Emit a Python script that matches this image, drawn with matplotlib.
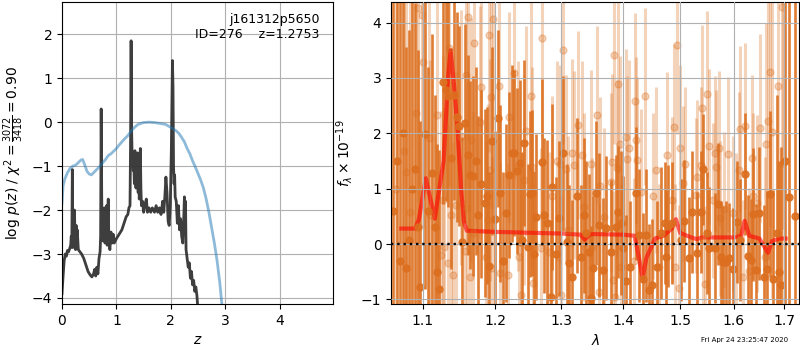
import numpy as np
import matplotlib
matplotlib.use('Agg')
import matplotlib.pyplot as plt
from matplotlib.ticker import FixedLocator, FormatStrFormatter, NullLocator

# --- p(z) panel ---
z_chi = [0.00, 0.02, 0.04, 0.06, 0.08, 0.10, 0.12, 0.14, 0.16, 0.17, 0.18, 0.19, 0.20, 0.21,
         0.22, 0.23, 0.24, 0.25, 0.26, 0.27, 0.28, 0.30, 0.33, 0.36, 0.40, 0.44, 0.48, 0.52,
         0.55, 0.58, 0.60, 0.62, 0.64, 0.66, 0.68, 0.70, 0.71, 0.72, 0.73, 0.74, 0.76, 0.77,
         0.78, 0.79, 0.80, 0.81, 0.82, 0.83, 0.84, 0.85, 0.86, 0.87, 0.88, 0.90, 0.92, 0.94,
         0.96, 1.00, 1.05, 1.10, 1.14, 1.18, 1.21, 1.23, 1.25, 1.26, 1.27, 1.28, 1.29, 1.30,
         1.31, 1.32, 1.33, 1.34, 1.35, 1.36, 1.37, 1.38, 1.39, 1.40, 1.41, 1.42, 1.43, 1.44,
         1.45, 1.46, 1.48, 1.50, 1.52, 1.55, 1.57, 1.60, 1.63, 1.66, 1.70, 1.73, 1.76, 1.79,
         1.82, 1.85, 1.87, 1.89, 1.91, 1.93, 1.95, 1.97, 1.99, 2.01, 2.03, 2.04, 2.05, 2.06,
         2.07, 2.08, 2.10, 2.12, 2.14, 2.16, 2.18, 2.20, 2.22, 2.24, 2.25, 2.26, 2.27, 2.28,
         2.30, 2.32, 2.34, 2.36, 2.38, 2.40, 2.42, 2.44, 2.46, 2.48, 2.50]
logp_chi = [-3.90, -3.50, -3.15, -3.00, -3.05, -2.92, -2.95, -2.88, -2.80, -2.60, -2.85, -1.08, -2.70, -2.85,
            -2.40, -2.00, -2.80, -2.90, -2.35, -2.75, -2.45, -2.90, -2.95, -3.00, -3.10, -3.25, -3.40, -3.48,
            -3.52, -3.45, -3.35, -3.50, -3.30, -3.45, -3.10, -2.95, -2.60, 0.30, -1.70, -2.70, -2.00, -2.60,
            -1.95, -2.75, -2.10, -2.70, -1.90, -2.80, -2.20, -1.75, -2.65, -2.80, -2.90, -2.50, -2.75, -2.55,
            -2.75, -2.65, -2.55, -2.45, -2.30, -2.15, -2.10, -1.95, -1.90, -0.50, 1.85, -0.20, -0.85, -0.70,
            -1.10, -0.95, -1.40, -0.65, -1.30, -1.50, -0.85, -1.45, -0.70, -1.60, -1.10, -1.75, -1.55, -0.60,
            -1.50, -1.90, -1.80, -2.05, -1.90, -1.75, -2.05, -1.95, -2.05, -1.95, -2.05, -1.90, -2.05, -1.95,
            -2.10, -1.80, -2.05, -1.70, -1.25, -1.60, -2.25, -2.35, -1.90, -0.60, 1.40, 0.80, -1.00, -1.40,
            -1.20, -1.70, -1.80, -2.30, -1.90, -2.45, -2.20, -2.60, -2.75, -2.10, -1.70, -2.50, -1.80, -2.90,
            -3.10, -3.30, -3.20, -3.55, -3.40, -3.70, -3.60, -3.85, -3.75, -3.95, -4.30]

z_prior = [0.00, 0.02, 0.05, 0.10, 0.15, 0.20, 0.25, 0.30, 0.35, 0.38, 0.42, 0.46, 0.50, 0.54,
           0.58, 0.62, 0.66, 0.70, 0.75, 0.80, 0.85, 0.90, 0.95, 1.00, 1.05, 1.10, 1.15, 1.20,
           1.25, 1.30, 1.35, 1.40, 1.45, 1.50, 1.60, 1.70, 1.80, 1.90, 2.00, 2.10, 2.15, 2.20,
           2.25, 2.30, 2.35, 2.40, 2.45, 2.50, 2.55, 2.60, 2.65, 2.70, 2.75, 2.80, 2.85, 2.90, 2.95]
logp_prior = [-1.85, -1.45, -1.30, -1.15, -1.05, -1.00, -0.98, -0.92, -0.86, -0.85, -0.98, -1.12, -1.18, -1.20,
              -1.15, -1.10, -1.05, -1.00, -0.92, -0.85, -0.76, -0.72, -0.66, -0.60, -0.52, -0.45, -0.38, -0.32,
              -0.24, -0.16, -0.10, -0.05, -0.03, -0.01, 0.00, -0.01, -0.03, -0.05, -0.12, -0.20, -0.26, -0.35,
              -0.45, -0.60, -0.72, -0.88, -1.02, -1.17, -1.32, -1.50, -1.75, -2.05, -2.40, -2.75, -3.15, -3.65, -4.30]

# --- spectrum panel: first beam (solid) ---
wave_a = [1.0618, 1.0661, 1.0708, 1.0747, 1.0786, 1.0825, 1.0865, 1.0904, 1.0943, 1.0969, 1.1036, 1.1076,
          1.1130, 1.1170, 1.1197, 1.1224, 1.1265, 1.1306, 1.1333, 1.1374, 1.1416, 1.1458, 1.1485, 1.1527,
          1.1569, 1.1611, 1.1639, 1.1681, 1.1724, 1.1752, 1.1795, 1.1852, 1.1881, 1.1910, 1.1953, 1.1997,
          1.2040, 1.2069, 1.2113, 1.2157, 1.2201, 1.2245, 1.2275, 1.2319, 1.2364, 1.2394, 1.2424, 1.2484,
          1.2514, 1.2544, 1.2575, 1.2605, 1.2697, 1.2728, 1.2774, 1.2836, 1.2852, 1.2914, 1.2961, 1.3024,
          1.3087, 1.3118, 1.3166, 1.3246, 1.3310, 1.3358, 1.3391, 1.3439, 1.3472, 1.3504, 1.3553, 1.3602,
          1.3669, 1.3718, 1.3801, 1.3885, 1.3918, 1.3969, 1.4003, 1.4054, 1.4122, 1.4225, 1.4276, 1.4346,
          1.4398, 1.4450, 1.4503, 1.4591, 1.4661, 1.4732, 1.4750, 1.4786, 1.4858, 1.5020, 1.5075, 1.5166,
          1.5221, 1.5314, 1.5388, 1.5425, 1.5500, 1.5537, 1.5632, 1.5688, 1.5745, 1.5783, 1.5841, 1.5898,
          1.5975, 1.6053, 1.6111, 1.6209, 1.6268, 1.6327, 1.6366, 1.6426, 1.6485, 1.6585, 1.6645, 1.6706,
          1.6767, 1.6848, 1.6889, 1.6930, 1.7012, 1.7095, 1.7218]
flux_a = [0.60, 1.50, -0.30, 2.00, -0.44, 0.07, 1.00, 1.35, 0.30, -0.77, 1.98, 0.60,
          1.29, 0.30, -0.50, -0.81, 2.93, 2.78, 2.67, 1.55, 2.69, 2.29, 2.13, 0.04,
          2.18, 1.61, 1.25, 1.23, 1.50, 0.52, 1.08, 0.74, 0.87, -0.40, 1.86, 0.45,
          2.27, 0.92, -0.30, 0.56, 1.25, 1.64, 1.64, 1.32, 1.46, 0.07, 1.82, -0.05,
          0.90, 0.92, -0.18, 0.49, 1.48, 0.52, 0.38, -0.96, 1.03, -0.18, 0.47, 1.64,
          0.04, -0.34, -0.60, 0.87, -0.23, 0.52, 0.20, -0.14, -0.97, -0.43, 0.92, 0.34,
          -0.47, 0.29, -0.14, 0.31, 0.58, 0.38, -0.07, -0.67, -0.42, 0.92, 0.16, -0.63,
          0.16, -0.83, -0.74, -0.42, 0.20, 0.38, -0.23, 0.33, 0.38, 0.07, 0.42, -0.25,
          0.58, -0.16, 0.58, 1.35, 0.20, -0.07, -0.07, 0.72, -0.23, -0.32, -0.32, -0.25,
          -0.45, 0.40, 0.07, 1.26, -0.22, -0.29, 0.54, -0.47, 0.56, -0.60, -0.45, 0.90,
          -0.63, 0.20, -0.50, -0.74, 1.50, 0.85, 0.50]
err_a = [6.0, 6.0, 5.0, 4.0, 4.0, 3.8, 3.5, 3.0, 3.2, 3.0, 2.8, 2.6,
         2.5, 2.4, 2.3, 2.5, 2.2, 2.0, 2.0, 2.0, 1.9, 1.9, 1.8, 1.9,
         1.8, 1.8, 1.7, 1.8, 1.7, 1.8, 1.7, 1.7, 1.6, 1.7, 1.7, 1.6,
         1.6, 1.6, 1.6, 1.6, 1.5, 1.6, 1.5, 1.5, 1.5, 1.6, 1.5, 1.5,
         1.5, 1.5, 1.5, 1.5, 1.5, 1.4, 1.5, 1.4, 1.5, 1.4, 1.4, 1.4,
         1.4, 1.4, 1.4, 1.4, 1.3, 1.4, 1.3, 1.4, 1.3, 1.3, 1.3, 1.3,
         1.3, 1.3, 1.3, 1.3, 1.2, 1.3, 1.3, 1.2, 1.2, 1.2, 1.2, 1.2,
         1.2, 1.2, 1.2, 1.2, 1.2, 1.1, 1.2, 1.1, 1.1, 1.1, 1.1, 1.1,
         1.1, 1.1, 1.1, 1.0, 1.1, 1.1, 1.0, 1.1, 1.0, 1.0, 1.1, 1.0,
         1.1, 1.1, 1.1, 1.1, 1.1, 1.1, 1.2, 1.2, 1.2, 1.3, 1.4, 1.5,
         1.6, 2.5, 2.0, 2.5, 5.0, 6.0, 6.0]

# --- second beam (faint) ---
wave_b = [1.0648, 1.0760, 1.0786, 1.0838, 1.0917, 1.0943, 1.0996, 1.1009, 1.1089, 1.1103, 1.1184, 1.1251,
          1.1265, 1.1292, 1.1333, 1.1347, 1.1374, 1.1402, 1.1444, 1.1513, 1.1569, 1.1583, 1.1597, 1.1611,
          1.1639, 1.1653, 1.1681, 1.1695, 1.1781, 1.1795, 1.1866, 1.1895, 1.1910, 1.1924, 1.1938, 1.1953,
          1.1967, 1.2054, 1.2069, 1.2186, 1.2201, 1.2275, 1.2334, 1.2349, 1.2379, 1.2424, 1.2454,
          1.2529, 1.2544, 1.2560, 1.2682, 1.2697, 1.2805, 1.2852, 1.2929, 1.2976, 1.2992, 1.3024, 1.3071,
          1.3102, 1.3166, 1.3198, 1.3262, 1.3326, 1.3358, 1.3472, 1.3488, 1.3570, 1.3602, 1.3619, 1.3685,
          1.3801, 1.3818, 1.3834, 1.3851, 1.3868, 1.3902, 1.3918, 1.3952, 1.3969, 1.4054, 1.4071, 1.4105,
          1.4190, 1.4207, 1.4225, 1.4242, 1.4311, 1.4381, 1.4520, 1.4573, 1.4626,
          1.4768, 1.4858, 1.4894, 1.4912, 1.4948, 1.4984, 1.5002, 1.5057, 1.5093, 1.5295, 1.5314, 1.5388,
          1.5406, 1.5425, 1.5462, 1.5500, 1.5537, 1.5594, 1.5632, 1.5669, 1.5707, 1.5726, 1.5802, 1.5879,
          1.5975, 1.6033, 1.6092, 1.6111, 1.6170, 1.6209, 1.6288, 1.6346, 1.6366, 1.6445, 1.6505, 1.6605,
          1.6625, 1.6666, 1.6706, 1.6746, 1.6868, 1.6950, 1.6971]
flux_b = [1.00, 1.68, 1.30, 0.58, 2.36, 4.26, 4.13, 3.29, 1.91, 0.52, 2.33, -0.20,
          0.79, -0.05, -0.34, 3.55, 0.52, -0.56, 0.70, 1.93, -0.13, 3.05, 0.65, 4.10,
          -0.60, 1.88, 0.20, 3.63, 2.20, 2.83, -0.23, 0.43, 3.77, 1.34, 2.65, -0.43,
          4.06, 2.85, -0.52, -0.56, 2.29, 3.09, 1.41, -0.23, -0.92, 1.16, 2.04,
          2.67, 1.39, -0.70, -0.07, 3.72, -0.14, 0.87, 1.50, 1.44, -0.92, 3.50, 1.35,
          0.25, 1.64, 1.43, 2.15, 1.61, 0.67, 1.44, -0.05, 2.33, -0.87, 1.05, 0.49,
          1.12, 1.48, -0.65, 3.41, -0.96, 1.37, 2.89, 1.80, -0.42, 1.93, 1.53, 1.73,
          -0.31, 2.58, 1.88, 1.52, 0.94, 2.67, 0.87, 1.34, -0.42,
          1.61, 0.79, 2.11, -0.42, 3.59, -0.79, 1.73, 1.10, 1.44, 0.88, 1.21, 1.43,
          2.45, 0.07, -0.72, 2.71, 1.77, 0.79, 1.64, 1.39, 1.73, 0.47, 0.63, 1.62,
          0.56, 0.25, 1.34, 2.08, -0.60, 2.13, -0.49, 1.55, 0.87, 0.74, 2.09, -0.23,
          1.80, 2.22, 3.10, 2.02, 2.85, 4.28, 1.46]
err_b = [5.0, 4.0, 4.0, 3.8, 3.5, 3.5, 3.2, 3.0, 3.0, 2.8, 2.8, 2.6,
         2.6, 2.5, 2.5, 2.5, 2.4, 2.4, 2.4, 2.3, 2.3, 2.3, 2.3, 2.2,
         2.2, 2.2, 2.2, 2.2, 2.1, 2.1, 2.1, 2.1, 2.1, 2.0, 2.0, 2.0,
         2.0, 2.0, 2.0, 2.0, 1.9, 1.9, 1.9, 1.9, 1.9, 1.9, 1.9,
         1.9, 1.8, 1.8, 1.8, 1.8, 1.8, 1.8, 1.8, 1.8, 1.8, 1.7, 1.7,
         1.7, 1.7, 1.7, 1.7, 1.7, 1.7, 1.7, 1.6, 1.6, 1.6, 1.6, 1.6,
         1.6, 1.6, 1.6, 1.6, 1.6, 1.6, 1.6, 1.6, 1.5, 1.6, 1.5, 1.6,
         1.5, 1.6, 1.5, 1.5, 1.5, 1.6, 1.5, 1.5, 1.5,
         1.5, 1.5, 1.5, 1.5, 1.6, 1.5, 1.5, 1.4, 1.4, 1.4, 1.4, 1.4,
         1.5, 1.4, 1.4, 1.5, 1.4, 1.4, 1.4, 1.4, 1.4, 1.4, 1.4, 1.4,
         1.4, 1.4, 1.4, 1.5, 1.4, 1.5, 1.5, 1.5, 1.5, 1.6, 1.7, 1.8,
         2.2, 2.5, 2.8, 3.0, 3.5, 4.0, 4.5]

# best-fit model
wave_model = [1.072, 1.090, 1.095, 1.104, 1.116, 1.128, 1.134, 1.1375, 1.142, 1.147, 1.152, 1.156,
              1.160, 1.200, 1.300, 1.330, 1.337, 1.345, 1.350, 1.400, 1.420, 1.428, 1.4335, 1.440,
              1.455, 1.470, 1.485, 1.492, 1.500, 1.520, 1.530, 1.540, 1.600, 1.614, 1.621, 1.630,
              1.650, 1.660, 1.667, 1.675, 1.690, 1.703]
flux_model = [0.28, 0.28, 0.45, 1.19, 0.46, 1.50, 3.00, 3.50, 2.90, 2.10, 1.00, 0.40,
              0.24, 0.22, 0.19, 0.17, 0.08, 0.17, 0.18, 0.17, 0.15, -0.30, -0.62, -0.25,
              0.10, 0.15, 0.28, 0.45, 0.20, 0.12, 0.09, 0.12, 0.12, 0.15, 0.42, 0.15,
              0.10, -0.05, -0.16, 0.05, 0.10, 0.10]

xticks_r = [1.1, 1.2, 1.3, 1.4, 1.5, 1.6, 1.7]
orange = '#dc6f1f'

fig = plt.figure(figsize=(8, 3.5), dpi=100)
ax1 = fig.add_axes([0.0775, 0.131, 0.3387, 0.863])
ax2 = fig.add_axes([0.489, 0.131, 0.510, 0.863])

ax1.plot(z_chi, logp_chi, color='0.2', lw=2, alpha=0.95)
ax1.plot(z_prior, logp_prior, color='#1f77b4', lw=2, alpha=0.5)
ax1.set_xlim(0, 4.98)
ax1.set_ylim(-4.14, 2.73)
ax1.set_xticks([0, 1, 2, 3, 4])
ax1.set_yticks([-4, -3, -2, -1, 0, 1, 2])
ax1.grid(True)
ax1.set_xlabel(r'$z$')
ax1.set_ylabel(r'log $p(z)$ / $\chi^2=\frac{3072}{3418}=0.90$')
ax1.text(0.95, 0.965, 'j161312p5650\nID=276    z=1.2753', ha='right', va='top',
         transform=ax1.transAxes, fontsize=9)

ax2.errorbar(wave_b, flux_b, yerr=err_b, marker='o', ms=5, linestyle='none',
             color=orange, alpha=0.3, elinewidth=2.2, capsize=0)
ax2.errorbar(wave_a, flux_a, yerr=err_a, marker='o', ms=5, linestyle='none',
             color=orange, alpha=0.9, elinewidth=1.9, capsize=0)
ax2.plot(wave_model, flux_model, color='red', lw=3, alpha=0.6)
ax2.axhline(0, color='k', ls=':', lw=1.7, zorder=5)
ax2.set_xscale('log')
ax2.xaxis.set_major_locator(FixedLocator(xticks_r))
ax2.xaxis.set_major_formatter(FormatStrFormatter('%.1f'))
ax2.xaxis.set_minor_locator(NullLocator())
ax2.set_xlim(1.059, 1.731)
ax2.set_ylim(-1.085, 4.37)
ax2.set_yticks([-1, 0, 1, 2, 3, 4])
ax2.set_axisbelow(False)
ax2.grid(True, zorder=4)
ax2.set_xlabel(r'$\lambda$')
ax2.set_ylabel(r'$f_\lambda\times10^{-19}$')

fig.text(0.985, 0.028, 'Fri Apr 24 23:25:47 2020', ha='right', va='center', fontsize=5)

fig.savefig('out.png', dpi=100)
